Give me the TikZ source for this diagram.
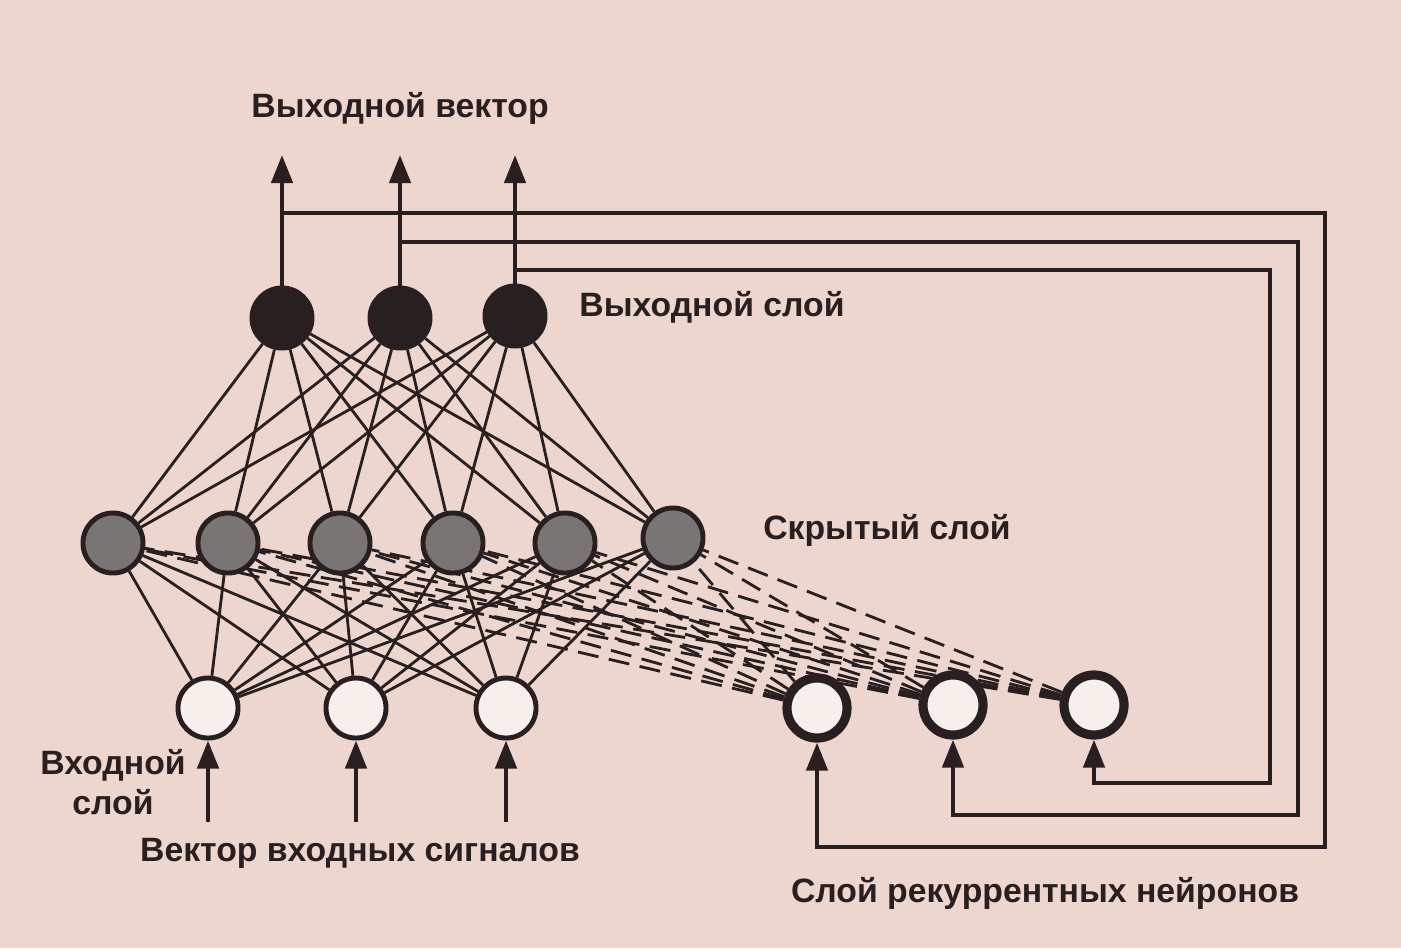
\documentclass[tikz,border=0pt]{standalone}
\usepackage{fontspec}
\setmainfont{Liberation Sans}
\usetikzlibrary{arrows.meta}
\definecolor{paper}{RGB}{236,214,205}
\definecolor{ink}{RGB}{40,32,32}
\pgfdeclarelayer{bg}
\pgfsetlayers{bg,main}
\begin{document}
\begin{tikzpicture}[x=0.01cm,y=-0.01cm,
  neuron/.style={circle,draw=ink,line width=1.4pt,minimum size=0.6cm,inner sep=0pt},
  outn/.style={neuron,fill=ink},
  hidn/.style={neuron,fill=ink!62},
  inn/.style={neuron,fill=paper!40!white},
  recn/.style={neuron,fill=paper!40!white,line width=2.6pt},
  lbl/.style={text=ink,font=\fontsize{9.6}{11.5}\selectfont\bfseries},
  wire/.style={draw=ink,line width=0.8pt},
  dwire/.style={draw=ink,line width=0.8pt,dash pattern=on 6pt off 3pt},
  fb/.style={draw=ink,line width=1.3pt,-{Triangle[length=8pt,width=6pt]}},
]
\useasboundingbox (0,0) rectangle (1401,948);
\foreach \n/\x/\y in {o1/282/318,o2/400/318,o3/515/316}
  \node[outn] (\n) at (\x,\y) {};
\foreach \n/\x/\y in {h1/113/543,h2/228/543,h3/340/543,h4/453/543,h5/565/543,h6/673/538}
  \node[hidn] (\n) at (\x,\y) {};
\foreach \n/\x/\y in {i1/208/708,i2/356/708,i3/506/708}
  \node[inn] (\n) at (\x,\y) {};
\foreach \n/\x/\y in {r1/817/708,r2/953/705,r3/1094/705}
  \node[recn] (\n) at (\x,\y) {};
\begin{pgfonlayer}{bg}
\fill[paper] (0,0) rectangle (1401,948);
\foreach \h in {h1,h2,h3,h4,h5,h6}{
  \foreach \o in {o1,o2,o3} \draw[wire] (\h) -- (\o);
  \foreach \i in {i1,i2,i3} \draw[wire] (\i) -- (\h);
  \foreach \r in {r1,r2,r3} \draw[dwire] (\r) -- (\h);
}
\end{pgfonlayer}
\coordinate (o1t) at (282,155); \coordinate (o2t) at (400,155); \coordinate (o3t) at (515,155);
\foreach \o in {o1,o2,o3} \draw[fb] (\o.north) -- (\o t);
\coordinate (a1) at (282,213); \coordinate (a2) at (400,242); \coordinate (a3) at (515,270);
\draw[fb] (a1) -- (1325,213) -- (1325,847) -- (817,847) -- (r1.south);
\draw[fb] (a2) -- (1298,242) -- (1298,815) -- (953,815) -- (r2.south);
\draw[fb] (a3) -- (1270,270) -- (1270,783) -- (1094,783) -- (r3.south);
\foreach \i/\x in {i1/208,i2/356,i3/506}{
  \coordinate (\i b) at (\x,822);
  \draw[fb] (\i b) -- (\i.south);
}
\node[lbl] (t1) at (400,108) {Выходной вектор};
\node[lbl] (t2) at (712,307) {Выходной слой};
\node[lbl] (t3) at (887,530) {Скрытый слой};
\node[lbl,align=center] (t4) at (113,782) {Входной\\слой};
\node[lbl] (t5) at (360,853) {Вектор входных сигналов};
\node[lbl] (t6) at (1045,893) {Слой рекуррентных нейронов};
\end{tikzpicture}
\end{document}
